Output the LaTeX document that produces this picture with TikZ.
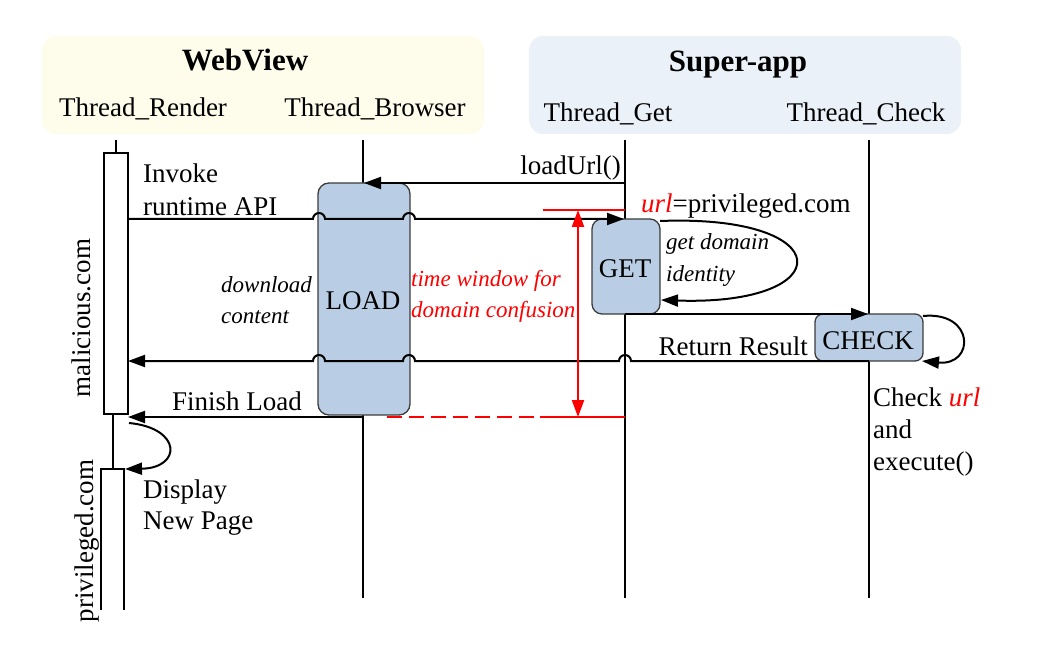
\documentclass[tikz,border=0pt]{standalone}
\usepackage{fontspec}
\setmainfont{Liberation Serif}
\usetikzlibrary{arrows.meta}
\definecolor{boxfill}{RGB}{185,206,228}
\definecolor{boxline}{RGB}{60,60,60}
\definecolor{wvbg}{RGB}{254,253,235}
\definecolor{sabg}{RGB}{234,241,249}
\definecolor{myred}{RGB}{255,0,0}
\tikzset{
  life/.style={line width=2pt, black},
  actbox/.style={draw=black, line width=1.3pt, fill=white, inner sep=0pt, outer sep=0pt},
  procbox/.style={draw=boxline, line width=1.3pt, fill=boxfill, rounded corners=11pt, inner sep=0pt, outer sep=0pt, font=\fontsize{27}{32}\selectfont},
  msg/.style={line width=2pt, black, -{Triangle[length=17pt,width=12pt]}},
  redline/.style={line width=2.2pt, myred},
  lab/.style={font=\fontsize{27}{32}\selectfont, inner sep=0pt},
  ilab/.style={font=\fontsize{23}{28}\selectfont\itshape, inner sep=0pt},
  head/.style={font=\fontsize{31}{36}\selectfont\bfseries, inner sep=0pt},
  hdrbg/.style={rounded corners=14pt, draw=none}
}
\begin{document}
\begin{tikzpicture}[x=1pt,y=1pt]
\useasboundingbox (0,0) rectangle (1057,-652);
% headers
\fill[wvbg, hdrbg] (42,-36) rectangle (484,-134);
\fill[sabg, hdrbg] (529,-36) rectangle (961,-134);
\node[head, anchor=base] (hwv) at (245,-71) {WebView};
\node[head, anchor=base] (hsa) at (738,-72) {Super-app};
\node[lab, anchor=base] (trender) at (143,-117) {Thread\_Render};
\node[lab, anchor=base] (tbrowser) at (375,-117) {Thread\_Browser};
\node[lab, anchor=base] (tget) at (608,-122) {Thread\_Get};
\node[lab, anchor=base] (tcheck) at (866,-122) {Thread\_Check};
% lifelines
\coordinate (rtop) at (116,-140);
\coordinate (btop) at (363,-140);
\coordinate (bbot) at (363,-598);
\coordinate (gtop) at (625,-140);
\coordinate (gbot) at (625,-598);
\coordinate (ctop) at (869,-140);
\coordinate (cbot) at (869,-598);
\node[actbox, minimum width=24pt, minimum height=261pt] (mal) at (116,-283.5) {};
\draw[life] (rtop) -- (mal.north);
\draw[life] (btop) -- (bbot);
\draw[life] (gtop) -- (gbot);
\draw[life] (ctop) -- (cbot);
\coordinate (pvtop) at (113,-469);
\draw[life] (113,-414) -- (pvtop);
\draw[line width=1.3pt] (101,-610) -- (101,-469) -- (124,-469) -- (124,-610);
% process boxes
\node[procbox, minimum width=92pt, minimum height=232pt] (load) at (364,-299) {};
\node[lab, anchor=base] (loadtxt) at (363,-309) {LOAD};
\node[procbox, rounded corners=10pt, minimum width=68pt, minimum height=95pt] (get) at (626,-266.5) {};
\node[lab, anchor=base] (gettxt) at (625,-277) {GET};
\node[procbox, rounded corners=8pt, minimum width=108pt, minimum height=47pt] (check) at (869,-337.5) {};
\node[lab, anchor=base] (checktxt) at (868,-349) {CHECK};
% messages
\coordinate (lu) at (625,-183);
\draw[msg] (lu) -- (load.north);
\node[lab, anchor=base east] (lutxt) at (621,-175) {loadUrl()};
\coordinate (inv0) at (128,-219);
\coordinate (inv1) at (624,-219);
\draw[msg] (inv0) -- (313,-219) arc[start angle=180,end angle=0,radius=6] -- (403,-219) arc[start angle=180,end angle=0,radius=6] -- (inv1);
\node[lab, anchor=base west] (inv1t) at (143,-183) {Invoke};
\node[lab, anchor=base west] (inv2t) at (143,-216) {runtime API};
% get self loop
\coordinate (gl0) at (660,-221);
\coordinate (gl1) at (661,-300);
\draw[msg] (gl0) .. controls (840,-214) and (840,-306) .. (gl1);
\node[ilab, anchor=base west] (gd1) at (666,-250) {get domain};
\node[ilab, anchor=base west] (gd2) at (666,-282) {identity};
\node[lab, anchor=base west] (urlt) at (641,-213) {{\color{myred}\itshape url}=privileged.com};
% get -> check
\coordinate (gc0) at (625,-314);
\coordinate (gc1) at (868,-314);
\draw[msg] (gc0) -- (gc1);
% check self loop
\coordinate (cl0) at (923,-316);
\coordinate (cl1) at (922,-361);
\draw[msg] (cl0) .. controls (975,-311) and (975,-366) .. (cl1);
% return result
\coordinate (rr0) at (869,-361);
\coordinate (rr1) at (128,-361);
\draw[msg] (rr0) -- (631,-361) arc[start angle=0,end angle=180,radius=6] -- (415,-361) arc[start angle=0,end angle=180,radius=6] -- (325,-361) arc[start angle=0,end angle=180,radius=6] -- (rr1);
\node[lab, anchor=base east] (rrt) at (808,-355) {Return Result};
% finish load
\coordinate (fl1) at (128,-417);
\draw[msg] (load.south |- 0,-417) -- (fl1);
\node[lab, anchor=base west] (flt) at (172,-410) {Finish Load};
% render self loop
\coordinate (rl0) at (129,-423);
\draw[msg] (rl0) .. controls (182,-428) and (182,-468) .. (125,-469);
\node[lab, anchor=base west] (dn1) at (143,-498) {Display};
\node[lab, anchor=base west] (dn2) at (143,-529) {New Page};
% check url
\node[lab, anchor=base west] (cu1) at (873,-406) {Check {\color{myred}\itshape url}};
\node[lab, anchor=base west] (cu2) at (873,-438) {and};
\node[lab, anchor=base west] (cu3) at (873,-470) {execute()};
% italic labels
\node[ilab, anchor=base west] (dl1) at (221,-292) {download};
\node[ilab, anchor=base west] (dl2) at (221,-323) {content};
\node[ilab, anchor=base west, text=myred] (tw1) at (411,-287) {time window for};
\node[ilab, anchor=base west, text=myred] (tw2) at (411,-317) {domain confusion};
% red time window
\coordinate (rt0) at (543,-210);
\coordinate (rt1) at (625,-210);
\coordinate (rb0) at (540,-417);
\coordinate (rb1) at (625,-417);
\coordinate (rd0) at (387,-417);
\draw[redline] (rt0) -- (rt1);
\draw[redline] (rb0) -- (rb1);
\draw[redline, dash pattern=on 15pt off 7pt] (rd0) -- (rb0);
\coordinate (ra0) at (578,-210);
\coordinate (ra1) at (578,-417);
\draw[redline, {Triangle[length=17pt,width=12pt]}-{Triangle[length=17pt,width=12pt]}] (ra0) -- (ra1);
% rotated labels
\node[lab, anchor=base, rotate=90] (malt) at (90,-318) {malicious.com};
\node[lab, anchor=base, rotate=90] (privt) at (93,-541) {privileged.com};
\end{tikzpicture}
\end{document}
